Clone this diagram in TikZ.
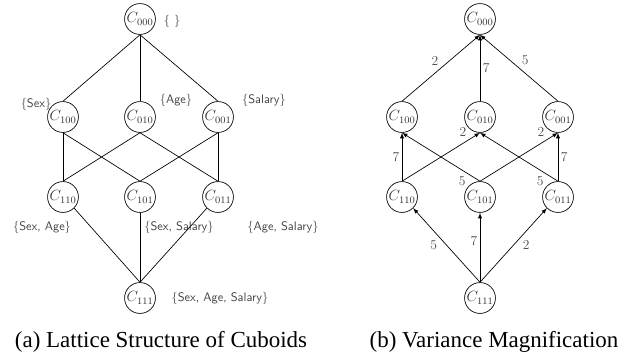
\documentclass[tikz,border=0pt]{standalone}
\usepackage{fontspec}
\newfontfamily\capfont{Liberation Serif}
\usetikzlibrary{arrows,positioning}

\begin{document}
\begin{tikzpicture} [
			x=0.81pt,y=-0.81pt,
			cuboid/.style={circle,draw,inner sep=0pt,minimum size=25pt,text=black!80,font=\fontsize{11.5}{12}\selectfont},
			setlabel/.style={font=\sffamily,text=black!75,inner sep=1pt},
			weight/.style={text=black!70,inner sep=2pt,font=\fontsize{11}{12}\selectfont},
			every path/.style={line width=0.55pt},
			>=latex,
		]
		\useasboundingbox (0,0) rectangle (639,360);
		
		% (a) lattice of cuboids
		\node[cuboid] (a000) at (140,19) {$C_{000}$};
		\node[cuboid] (a100) at (63,117) {$C_{100}$};
		\node[cuboid] (a010) at (140,117) {$C_{010}$};
		\node[cuboid] (a001) at (218,117) {$C_{001}$};
		\node[cuboid] (a110) at (63,197) {$C_{110}$};
		\node[cuboid] (a101) at (140,197) {$C_{101}$};
		\node[cuboid] (a011) at (218,197) {$C_{011}$};
		\node[cuboid] (a111) at (140,298) {$C_{111}$};
		
		\node[setlabel] (s000) at (172,21) {\{ \}};
		\node[setlabel] (s100) at (36,104) {\{Sex\}};
		\node[setlabel] (s010) at (176,100) {\{Age\}};
		\node[setlabel] (s001) at (264,100) {\{Salary\}};
		\node[setlabel] (s110) at (42,227) {\{Sex, Age\}};
		\node[setlabel] (s101) at (179,227) {\{Sex, Salary\}};
		\node[setlabel] (s011) at (283,227) {\{Age, Salary\}};
		\node[setlabel] (s111) at (220,298) {\{Sex, Age, Salary\}};
		
		\draw (a000.south) -- (a100.north);
		\draw (a000.south) -- (a010.north);
		\draw (a000.south) -- (a001.north);
		\draw (a100.south) -- (a110.north);
		\draw (a100.south) -- (a101.north);
		\draw (a010.south) -- (a110.north);
		\draw (a010.south) -- (a011.north);
		\draw (a001.south) -- (a101.north);
		\draw (a001.south) -- (a011.north);
		\draw (a110.south east) -- (a111.north);
		\draw (a101.south) -- (a111.north);
		\draw (a011.south west) -- (a111.north);
		
		% (b) variance magnification
		\node[cuboid] (b000) at (480,19) {$C_{000}$};
		\node[cuboid] (b100) at (402,117) {$C_{100}$};
		\node[cuboid] (b010) at (480,117) {$C_{010}$};
		\node[cuboid] (b001) at (558,117) {$C_{001}$};
		\node[cuboid] (b110) at (402,197) {$C_{110}$};
		\node[cuboid] (b101) at (480,197) {$C_{101}$};
		\node[cuboid] (b011) at (558,197) {$C_{011}$};
		\node[cuboid] (b111) at (480,298) {$C_{111}$};
		
		\draw[->] (b100.north) -- node[weight,above left,pos=0.5] {2} (b000.south);
		\draw[->] (b010.north) -- node[weight,right,pos=0.5] {7} (b000.south);
		\draw[->] (b001.north) -- node[weight,above right,pos=0.5] {5} (b000.south);
		\draw[->] (b110.north) -- node[weight,left,pos=0.5] {7} (b100.south);
		\draw[->] (b110.north) -- node[weight,above left,pos=0.86] {2} (b010.south);
		\draw[->] (b101.north) -- node[weight,below left,pos=0.15] {5} (b100.south);
		\draw[->] (b101.north) -- node[weight,above left,pos=0.86] {2} (b001.south);
		\draw[->] (b011.north) -- node[weight,below left,pos=0.15] {5} (b010.south);
		\draw[->] (b011.north) -- node[weight,right,pos=0.5] {7} (b001.south);
		\draw[->] (b111.north) -- node[weight,below left,pos=0.6] {5} (b110.south east);
		\draw[->] (b111.north) -- node[weight,left,pos=0.6] {7} (b101.south);
		\draw[->] (b111.north) -- node[weight,below right,pos=0.6] {2} (b011.south west);
		
		% captions
		\node[font=\capfont\fontsize{18.6}{20}\selectfont] (capa) at (161,342) {(a)\ Lattice Structure of Cuboids};
		\node[font=\capfont\fontsize{18.6}{20}\selectfont] (capb) at (494,342) {(b)\ Variance Magnification};
		
	\end{tikzpicture}
\end{document}
